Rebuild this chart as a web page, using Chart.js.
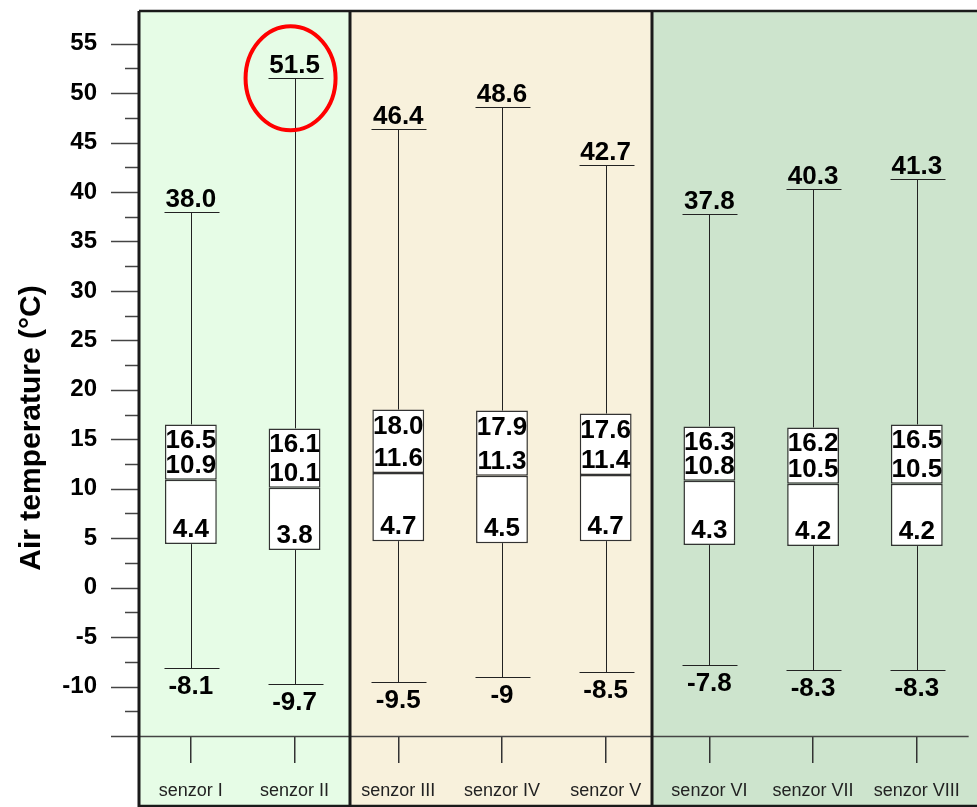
<!DOCTYPE html>
<html>
<head>
<meta charset="utf-8">
<script src="https://cdn.jsdelivr.net/npm/chart.js@4"></script>
<style>
  body { margin: 0; background: #fff; }
  canvas { display: block; }
</style>
</head>
<body>
<canvas id="boxChart" width="977" height="807"></canvas>
<script>
const sensors = ['senzor I', 'senzor II', 'senzor III', 'senzor IV', 'senzor V', 'senzor VI', 'senzor VII', 'senzor VIII'];
const maxVals = [38.0, 51.5, 46.4, 48.6, 42.7, 37.8, 40.3, 41.3];
const q3Vals = [16.5, 16.1, 18.0, 17.9, 17.6, 16.3, 16.2, 16.5];
const medianVals = [10.9, 10.1, 11.6, 11.3, 11.4, 10.8, 10.5, 10.5];
const q1Vals = [4.4, 3.8, 4.7, 4.5, 4.7, 4.3, 4.2, 4.2];
const minVals = [-8.1, -9.7, -9.5, -9, -8.5, -7.8, -8.3, -8.3];

// panel groups: I-II, III-V, VI-VIII
const panelSplits = [1.535, 4.45];
const panelColors = ['#e6fce6', '#f8f1dc', '#cde4cd'];
const highlightIndex = 1;

const labelFont = 'bold 26px "Liberation Sans", Arial, sans-serif';

const boxDecor = {
    id: 'boxDecor',
    beforeDraw(chart) {
        const { ctx, chartArea, scales: { x } } = chart;
        const edges = [chartArea.left, x.getPixelForValue(panelSplits[0]), x.getPixelForValue(panelSplits[1]), chart.width];
        ctx.save();
        panelColors.forEach((c, i) => {
            ctx.fillStyle = c;
            ctx.fillRect(edges[i], chartArea.top, edges[i + 1] - edges[i], chart.height - chartArea.top);
        });
        ctx.restore();
    },
    beforeDatasetsDraw(chart) {
        const { ctx, scales: { x, y } } = chart;
        ctx.save();
        ctx.strokeStyle = '#222';
        ctx.lineWidth = 1;
        sensors.forEach((s, i) => {
            const cx = Math.round(x.getPixelForValue(i)) + 0.5;
            const yMax = Math.round(y.getPixelForValue(maxVals[i])) + 0.5;
            const yMin = Math.round(y.getPixelForValue(minVals[i])) + 0.5;
            ctx.beginPath();
            ctx.moveTo(cx, yMax);
            ctx.lineTo(cx, y.getPixelForValue(q3Vals[i]));
            ctx.moveTo(cx, y.getPixelForValue(q1Vals[i]));
            ctx.lineTo(cx, yMin);
            ctx.moveTo(cx - 27, yMax);
            ctx.lineTo(cx + 28, yMax);
            ctx.moveTo(cx - 27, yMin);
            ctx.lineTo(cx + 28, yMin);
            ctx.stroke();
        });
        ctx.restore();
    },
    afterDraw(chart) {
        const { ctx, chartArea, scales: { x, y } } = chart;
        ctx.save();

        // y ticks, major and minor
        ctx.strokeStyle = '#444';
        ctx.lineWidth = 1.5;
        for (let v = y.min; v <= 55; v += 2.5) {
            const py = Math.round(y.getPixelForValue(v)) + 0.5;
            const len = v % 5 === 0 ? 28 : 14;
            ctx.beginPath();
            ctx.moveTo(chartArea.left - len, py);
            ctx.lineTo(v === y.min ? chartArea.right : chartArea.left, py);
            ctx.stroke();
        }

        // panel frames
        const edges = [chartArea.left, x.getPixelForValue(panelSplits[0]), x.getPixelForValue(panelSplits[1])];
        ctx.strokeStyle = '#1a1a1a';
        ctx.lineWidth = 3;
        edges.forEach((ex) => {
            ctx.beginPath();
            ctx.moveTo(Math.round(ex), chartArea.top);
            ctx.lineTo(Math.round(ex), chart.height);
            ctx.stroke();
        });
        ctx.lineWidth = 2.5;
        ctx.beginPath();
        ctx.moveTo(chartArea.left, chartArea.top);
        ctx.lineTo(chart.width, chartArea.top);
        ctx.moveTo(chartArea.left, chart.height - 1);
        ctx.lineTo(chart.width, chart.height - 1);
        ctx.stroke();

        // value labels
        ctx.fillStyle = '#000';
        ctx.font = labelFont;
        ctx.textAlign = 'center';
        ctx.textBaseline = 'alphabetic';
        sensors.forEach((s, i) => {
            const cx = x.getPixelForValue(i);
            ctx.fillText(maxVals[i].toFixed(1), cx, y.getPixelForValue(maxVals[i]) - 5);
            ctx.fillText(q3Vals[i].toFixed(1), cx, y.getPixelForValue(q3Vals[i]) + 24);
            ctx.fillText(medianVals[i].toFixed(1), cx, y.getPixelForValue(medianVals[i]) - 7);
            ctx.fillText(q1Vals[i].toFixed(1), cx, y.getPixelForValue(q1Vals[i]) - 7);
            ctx.fillText(String(minVals[i]), cx, y.getPixelForValue(minVals[i]) + 26);
        });

        // highlight ring around the highest maximum
        ctx.strokeStyle = '#ff0000';
        ctx.lineWidth = 4;
        ctx.beginPath();
        ctx.ellipse(x.getPixelForValue(highlightIndex) - 4, y.getPixelForValue(maxVals[highlightIndex]), 45, 52, 0, 0, Math.PI * 2);
        ctx.stroke();

        // axis title
        ctx.translate(32, 428);
        ctx.rotate(-Math.PI / 2);
        ctx.font = 'bold 30px "Liberation Sans", Arial, sans-serif';
        ctx.textBaseline = 'middle';
        ctx.fillText('Air temperature (°C)', 0, 0);
        ctx.restore();
    }
};

const boxStyle = {
    backgroundColor: '#ffffff',
    borderColor: '#333',
    borderWidth: 1.5,
    borderSkipped: false,
    grouped: false,
    barPercentage: 0.5,
    categoryPercentage: 1.0
};

new Chart(document.getElementById('boxChart'), {
    type: 'bar',
    data: {
        labels: sensors,
        datasets: [
            Object.assign({ label: 'Q1-median', data: sensors.map((s, i) => [q1Vals[i], medianVals[i]]) }, boxStyle),
            Object.assign({ label: 'median-Q3', data: sensors.map((s, i) => [medianVals[i], q3Vals[i]]) }, boxStyle)
        ]
    },
    options: {
        responsive: false,
        animation: false,
        layout: { padding: { top: 11, right: 3, left: 0, bottom: 0 } },
        plugins: {
            legend: { display: false },
            tooltip: { enabled: false }
        },
        scales: {
            x: {
                offset: true,
                grid: { display: true, drawOnChartArea: false, drawTicks: true, tickLength: 27, offset: false, color: '#333', lineWidth: 1.5 },
                border: { display: false },
                ticks: {
                    color: '#222',
                    padding: 17,
                    maxRotation: 0,
                    font: { family: '"Liberation Sans", Arial, sans-serif', size: 18 }
                },
                afterFit: (scale) => { scale.height = 71; }
            },
            y: {
                min: -15,
                max: 58.3,
                grid: { display: false, drawTicks: false },
                border: { display: false },
                ticks: {
                    stepSize: 5,
                    padding: 42,
                    color: '#000',
                    font: { family: '"Liberation Sans", Arial, sans-serif', size: 24, weight: 'bold' },
                    callback: (v) => (v >= -10 && v <= 55 && v % 5 === 0) ? String(v) : ''
                },
                afterFit: (scale) => {
                    scale.width = 139;
                    scale.paddingTop = 0;
                    scale.paddingBottom = 0;
                }
            }
        }
    },
    plugins: [boxDecor]
});
</script>
</body>
</html>
